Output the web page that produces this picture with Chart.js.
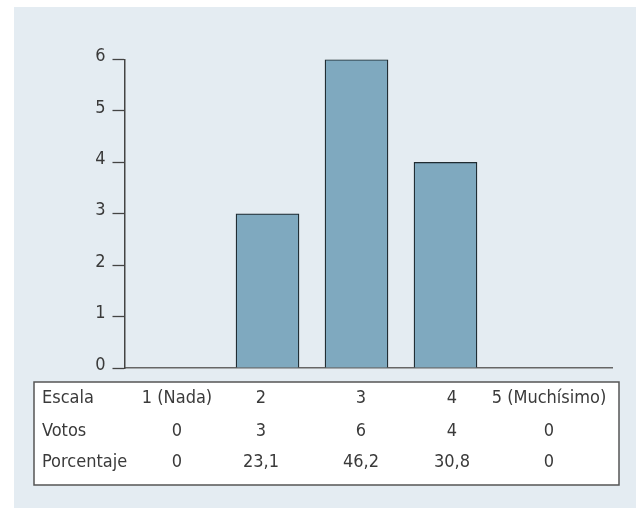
<!DOCTYPE html>
<html lang="es">
<head>
<meta charset="utf-8">
<title>Escala de valoración</title>
<script src="https://cdn.jsdelivr.net/npm/chart.js@4/dist/chart.umd.min.js"></script>
<style>
  html, body { margin: 0; padding: 0; background: #ffffff; }
  #wrap { width: 636px; height: 509px; position: relative; }
</style>
</head>
<body>
<div id="wrap"><canvas id="grafico" width="636" height="509"></canvas></div>
<script>
// Datos de la encuesta
const escala = ['1 (Nada)', '2', '3', '4', '5 (Muchísimo)'];
const posiciones = [1, 2, 3, 4, 5];
const votos = [0, 3, 6, 4, 0];
const porcentaje = ['0', '23,1', '46,2', '30,8', '0'];
const filas = ['Escala', 'Votos', 'Porcentaje'];
const ticksY = [0, 1, 2, 3, 4, 5, 6];

const FUENTE = '"DejaVu Sans Condensed", "DejaVu Sans", sans-serif';
const TEXTO = '#3a3a3a';

// Fondo del recuadro
const fondo = {
  id: 'fondo',
  beforeDraw(chart) {
    const c = chart.ctx;
    c.save();
    c.fillStyle = '#e4ecf2';
    c.fillRect(14, 7, 622, 501);
    c.restore();
  }
};

// Tabla de valores bajo el gráfico
const tabla = {
  id: 'tabla',
  afterDraw(chart) {
    const c = chart.ctx;
    const caja = { x: 34, y: 382, w: 585, h: 103 };
    const columnas = [177, 261, 361, 452, 549];
    const yFilas = [398, 431, 462];
    c.save();
    c.fillStyle = '#ffffff';
    c.fillRect(caja.x, caja.y, caja.w, caja.h);
    c.strokeStyle = '#555555';
    c.lineWidth = 1.5;
    c.strokeRect(caja.x, caja.y, caja.w, caja.h);
    c.font = '18px ' + FUENTE;
    c.fillStyle = TEXTO;
    c.textBaseline = 'middle';
    const contenido = [escala, votos.map(String), porcentaje];
    filas.forEach((nombre, f) => {
      c.textAlign = 'left';
      c.fillText(nombre, 42, yFilas[f]);
      c.textAlign = 'center';
      contenido[f].forEach((t, i) => c.fillText(t, columnas[i], yFilas[f]));
    });
    c.restore();
  }
};

new Chart(document.getElementById('grafico'), {
  type: 'bar',
  data: {
    datasets: [{
      data: posiciones.map((x, i) => ({ x: x, y: votos[i] })),
      backgroundColor: '#7fa9bf',
      borderColor: '#1f2b31',
      borderWidth: 1.3,
      barThickness: 63
    }]
  },
  options: {
    responsive: false,
    animation: false,
    events: [],
    layout: { padding: { top: 59.5, right: 24, left: 0, bottom: 0 } },
    plugins: { legend: { display: false }, tooltip: { enabled: false } },
    scales: {
      x: {
        type: 'linear',
        offset: false,
        min: 0.393,
        max: 5.871,
        ticks: { display: false },
        grid: { display: false, drawTicks: false },
        border: { display: true, color: '#666666', width: 1.5 },
        afterFit(s) { s.height = 141; }
      },
      y: {
        min: 0,
        max: 6,
        afterBuildTicks(s) { s.ticks = ticksY.map(v => ({ value: v })); },
        ticks: {
          color: TEXTO,
          font: { family: FUENTE, size: 18 },
          padding: 7,
          labelOffset: -3
        },
        grid: {
          display: true,
          drawOnChartArea: false,
          drawTicks: true,
          tickLength: 12,
          color: '#444444',
          tickWidth: 1.3
        },
        border: { display: true, color: '#444444', width: 1.5 },
        afterFit(s) { s.width = 124.5; }
      }
    }
  },
  plugins: [fondo, tabla]
});
</script>
</body>
</html>
